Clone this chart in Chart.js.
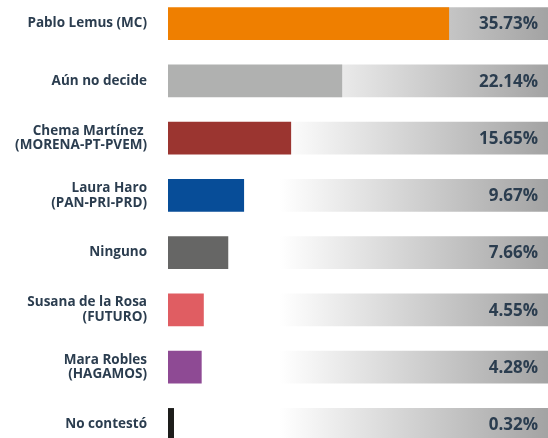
<!DOCTYPE html>
<html>
<head>
<meta charset="utf-8">
<script src="https://cdn.jsdelivr.net/npm/chart.js@4/dist/chart.umd.min.js"></script>
<style>
  html, body { margin: 0; padding: 0; background: #fff; overflow: hidden; }
  #BarChart { position: absolute; left: 0; top: -5px; }
</style>
</head>
<body>
<canvas id="BarChart" width="548" height="458"></canvas>
<script>
const candidates = [
    'Pablo Lemus (MC)',
    'Aún no decide',
    ['Chema Martínez ', '(MORENA-PT-PVEM)'],
    ['Laura Haro', '(PAN-PRI-PRD)'],
    'Ninguno',
    ['Susana de la Rosa', '(FUTURO)'],
    ['Mara Robles', '(HAGAMOS)'],
    'No contestó'
];
const percentages = [35.73, 22.14, 15.65, 9.67, 7.66, 4.55, 4.28, 0.32];
const barColors = ['#ef7f00', '#b0b1b0', '#9b3530', '#074d98', '#666665', '#e05d62', '#8e4a94', '#1d1d1b'];
const axisMax = 48.3;
const trackValues = candidates.map(() => axisMax);

const textColor = '#2b3d4f';

function trackGradient(context) {
    const area = context.chart.chartArea;
    if (!area) return '#e0e0e0';
    const g = context.chart.ctx.createLinearGradient(280, 0, area.right, 0);
    g.addColorStop(0, '#ffffff');
    g.addColorStop(1, '#a3a3a3');
    return g;
}

const valueLabels = {
    id: 'valueLabels',
    afterDatasetsDraw(chart) {
        const ctx = chart.ctx;
        const y = chart.scales.y;
        ctx.save();
        ctx.font = 'bold 17px "Open Sans"';
        ctx.fillStyle = textColor;
        ctx.textAlign = 'right';
        ctx.textBaseline = 'middle';
        percentages.forEach((v, i) => {
            ctx.fillText(v.toFixed(2) + '%', chart.chartArea.right - 10, y.getPixelForValue(i) + 1);
        });
        ctx.restore();
    }
};

const ctx = document.getElementById('BarChart').getContext('2d');
const barChart = new Chart(ctx, {
    type: 'bar',
    data: {
        labels: candidates,
        datasets: [{
            label: 'Porcentaje',
            data: percentages,
            backgroundColor: barColors,
            minBarLength: 6,
            grouped: false,
            barPercentage: 0.57,
            categoryPercentage: 1
        }, {
            label: 'Fondo',
            data: trackValues,
            backgroundColor: trackGradient,
            grouped: false,
            barPercentage: 0.57,
            categoryPercentage: 1
        }]
    },
    options: {
        indexAxis: 'y',
        responsive: false,
        animation: false,
        layout: { padding: 0 },
        plugins: {
            legend: { display: false },
            tooltip: { enabled: false }
        },
        scales: {
            x: {
                display: false,
                min: 0,
                max: axisMax
            },
            y: {
                grid: { display: false, drawTicks: false },
                border: { display: false },
                ticks: {
                    padding: 21,
                    color: textColor,
                    font: { family: 'Open Sans', weight: 'bold', size: 13.5, lineHeight: 1.1 }
                },
                afterFit(scale) {
                    scale.width = 168;
                    scale.paddingTop = 0;
                    scale.paddingBottom = 0;
                }
            }
        }
    },
    plugins: [valueLabels]
});
</script>
</body>
</html>
